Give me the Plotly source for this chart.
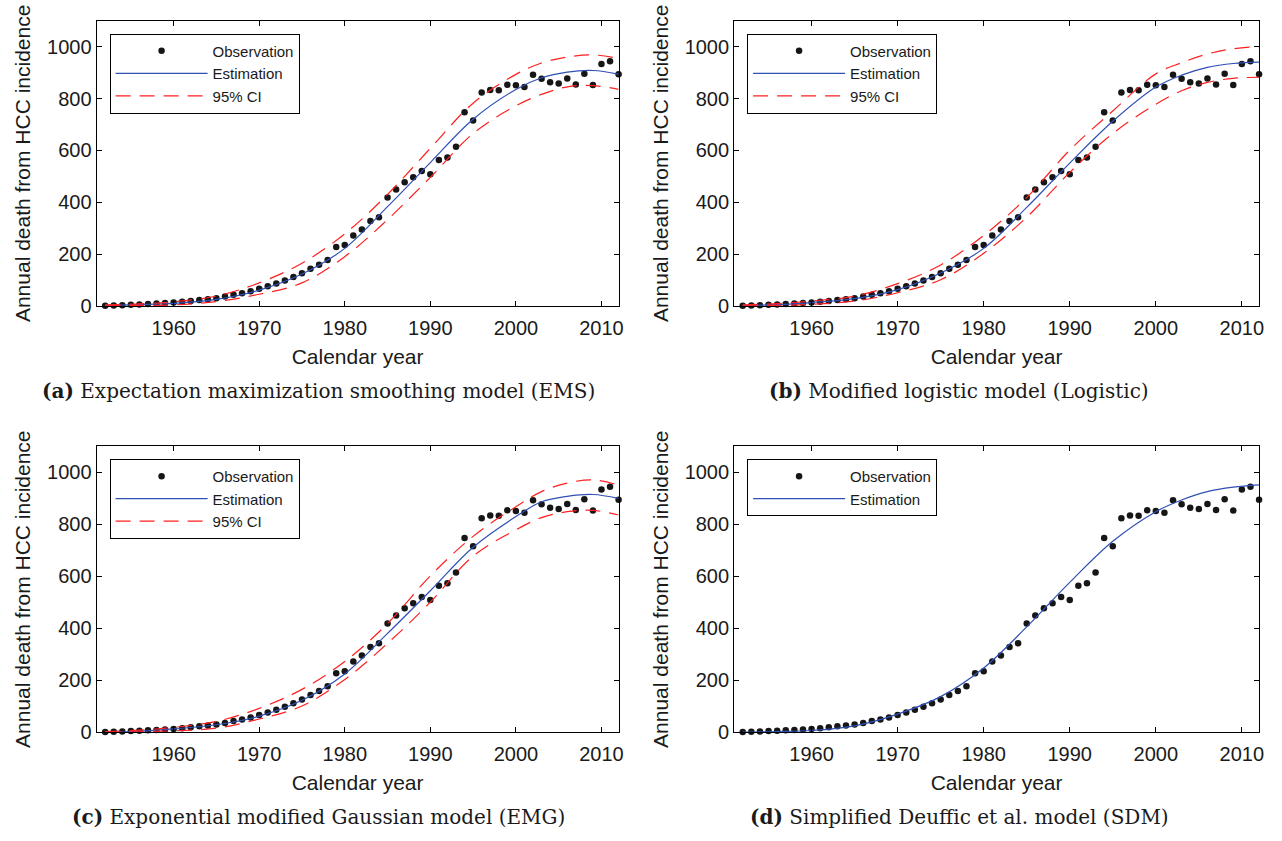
import plotly.graph_objects as go

# ---------------- data ----------------
years = list(range(1952, 2013))
observed = [1, 2, 3, 5, 6, 8, 9, 11, 13, 16,
            19, 23, 26, 30, 36, 43, 49, 57, 66, 76,
            87, 98, 112, 126, 143, 159, 177, 227, 235, 272,
            295, 328, 342, 418, 449, 477, 496, 520, 508, 563,
            573, 614, 747, 715, 823, 833, 832, 853, 851, 844,
            892, 876, 863, 858, 877, 854, 896, 852, 933, 944,
            894]

fit_years = [1952, 1956, 1960, 1965, 1970, 1975, 1980, 1985, 1990, 1995, 2000, 2003, 2006, 2009, 2012]

ems_est = [2, 5, 10, 25, 61, 123, 222, 383, 553, 720, 835, 880, 902, 908, 894]
ems_up = [4, 8, 16, 38, 89, 165, 278, 430, 608, 782, 893, 937, 960, 968, 955]
ems_lo = [0, 2, 4, 17, 45, 89, 190, 333, 496, 665, 772, 816, 845, 850, 835]

log_est = [2, 5, 13, 28, 63, 127, 222, 380, 551, 712, 844, 890, 920, 935, 940]
log_up = [4, 9, 19, 38, 86, 158, 272, 418, 601, 752, 895, 938, 972, 992, 1000]
log_lo = [0, 2, 6, 19, 51, 101, 203, 342, 515, 665, 778, 830, 862, 878, 882]

emg_est = [1, 4, 13, 29, 62, 123, 224, 380, 544, 711, 829, 886, 907, 914, 899]
emg_up = [3, 8, 19, 42, 92, 165, 272, 418, 601, 753, 867, 925, 958, 970, 950]
emg_lo = [0, 2, 6, 16, 51, 101, 203, 342, 500, 677, 778, 825, 848, 853, 835]

sdm_est = [1, 3, 7, 25, 70, 137, 247, 405, 576, 734, 848, 893, 925, 942, 951]

x_ticks = [1960, 1970, 1980, 1990, 2000, 2010]
y_ticks = [0, 200, 400, 600, 800, 1000]

captions = ["<b>(a)</b> Expectation maximization smoothing model (EMS)",
            "<b>(b)</b> Modified logistic model (Logistic)",
            "<b>(c)</b> Exponential modified Gaussian model (EMG)",
            "<b>(d)</b> Simplified Deuffic et al. model (SDM)"]

# ---------------- figure ----------------
W, H = 1282, 841
SANS = "Liberation Sans, Arial, sans-serif"
SERIF = "DejaVu Serif, serif"
BLUE = "#2f50b4"
RED = "#ff2020"
DOT = "#161616"

panels = [
    dict(est=ems_est, up=ems_up, lo=ems_lo, x0=97, x1=621, y0=21, y1=310),
    dict(est=log_est, up=log_up, lo=log_lo, x0=737, x1=1264, y0=21, y1=310),
    dict(est=emg_est, up=emg_up, lo=emg_lo, x0=97, x1=621, y0=452, y1=742),
    dict(est=sdm_est, up=None, lo=None, x0=737, x1=1264, y0=452, y1=742),
]

fig = go.Figure()
layout = dict(width=W, height=H, margin=dict(l=0, r=0, t=0, b=0),
              paper_bgcolor="white", plot_bgcolor="white",
              font=dict(family=SANS, color="#1a1a1a"), annotations=[])

for i, p in enumerate(panels):
    k = "" if i == 0 else str(i + 1)
    xa, ya = "x" + k, "y" + k
    lg = "legend" + k
    fig.add_trace(go.Scatter(x=years, y=observed, mode="markers", name="Observation",
                             marker=dict(size=6.5, color=DOT), cliponaxis=False,
                             xaxis=xa, yaxis=ya, legend=lg))
    fig.add_trace(go.Scatter(x=fit_years, y=p["est"], mode="lines", name="Estimation",
                             line=dict(color=BLUE, width=1.2, shape="spline", smoothing=1.0),
                             xaxis=xa, yaxis=ya, legend=lg))
    if p["up"] is not None:
        fig.add_trace(go.Scatter(x=fit_years, y=p["up"], mode="lines", name="95% CI",
                                 line=dict(color=RED, width=1.2, dash="15px,9px", shape="spline", smoothing=1.0),
                                 xaxis=xa, yaxis=ya, legend=lg))
        fig.add_trace(go.Scatter(x=fit_years, y=p["lo"], mode="lines", name="95% CI",
                                 line=dict(color=RED, width=1.2, dash="15px,9px", shape="spline", smoothing=1.0),
                                 xaxis=xa, yaxis=ya, legend=lg, showlegend=False))

    xdom = [p["x0"] / W, p["x1"] / W]
    ydom = [1 - p["y1"] / H, 1 - p["y0"] / H]
    layout["xaxis" + k] = dict(domain=xdom, anchor=ya, range=[1951, 2012], tickvals=x_ticks,
                               ticks="inside", ticklen=5, tickcolor="black", showline=True,
                               linecolor="black", linewidth=1, mirror="ticks", showgrid=False,
                               zeroline=False, tickfont=dict(size=20, color="#1a1a1a"),
                               ticklabelstandoff=4,
                               title=dict(text="Calendar year", font=dict(size=21), standoff=11))
    layout["yaxis" + k] = dict(domain=ydom, anchor=xa, range=[0, 1100], tickvals=y_ticks,
                               ticks="inside", ticklen=5, tickcolor="black", showline=True,
                               linecolor="black", linewidth=1, mirror="ticks", showgrid=False,
                               zeroline=False, tickfont=dict(size=20, color="#1a1a1a"),
                               title=dict(text="Annual death from HCC incidence", font=dict(size=21), standoff=10))
    layout[lg] = dict(x=(p["x0"] + 13) / W, y=1 - (p["y0"] + 13) / H, xanchor="left", yanchor="top",
                      bgcolor="white", bordercolor="black", borderwidth=1,
                      font=dict(size=15, family=SANS), itemwidth=92,
                      entrywidth=196, entrywidthmode="pixels", tracegroupgap=0)
    cx = 320 if i % 2 == 0 else 963
    cy = 396 if i < 2 else 828
    layout["annotations"].append(dict(text=captions[i], x=cx / W, y=1 - cy / H, xref="paper", yref="paper",
                                      showarrow=False, xanchor="center", yanchor="middle",
                                      font=dict(family=SERIF, size=20, color="#1a1a1a")))

fig.update_layout(**layout)
fig.write_html("out.html")
